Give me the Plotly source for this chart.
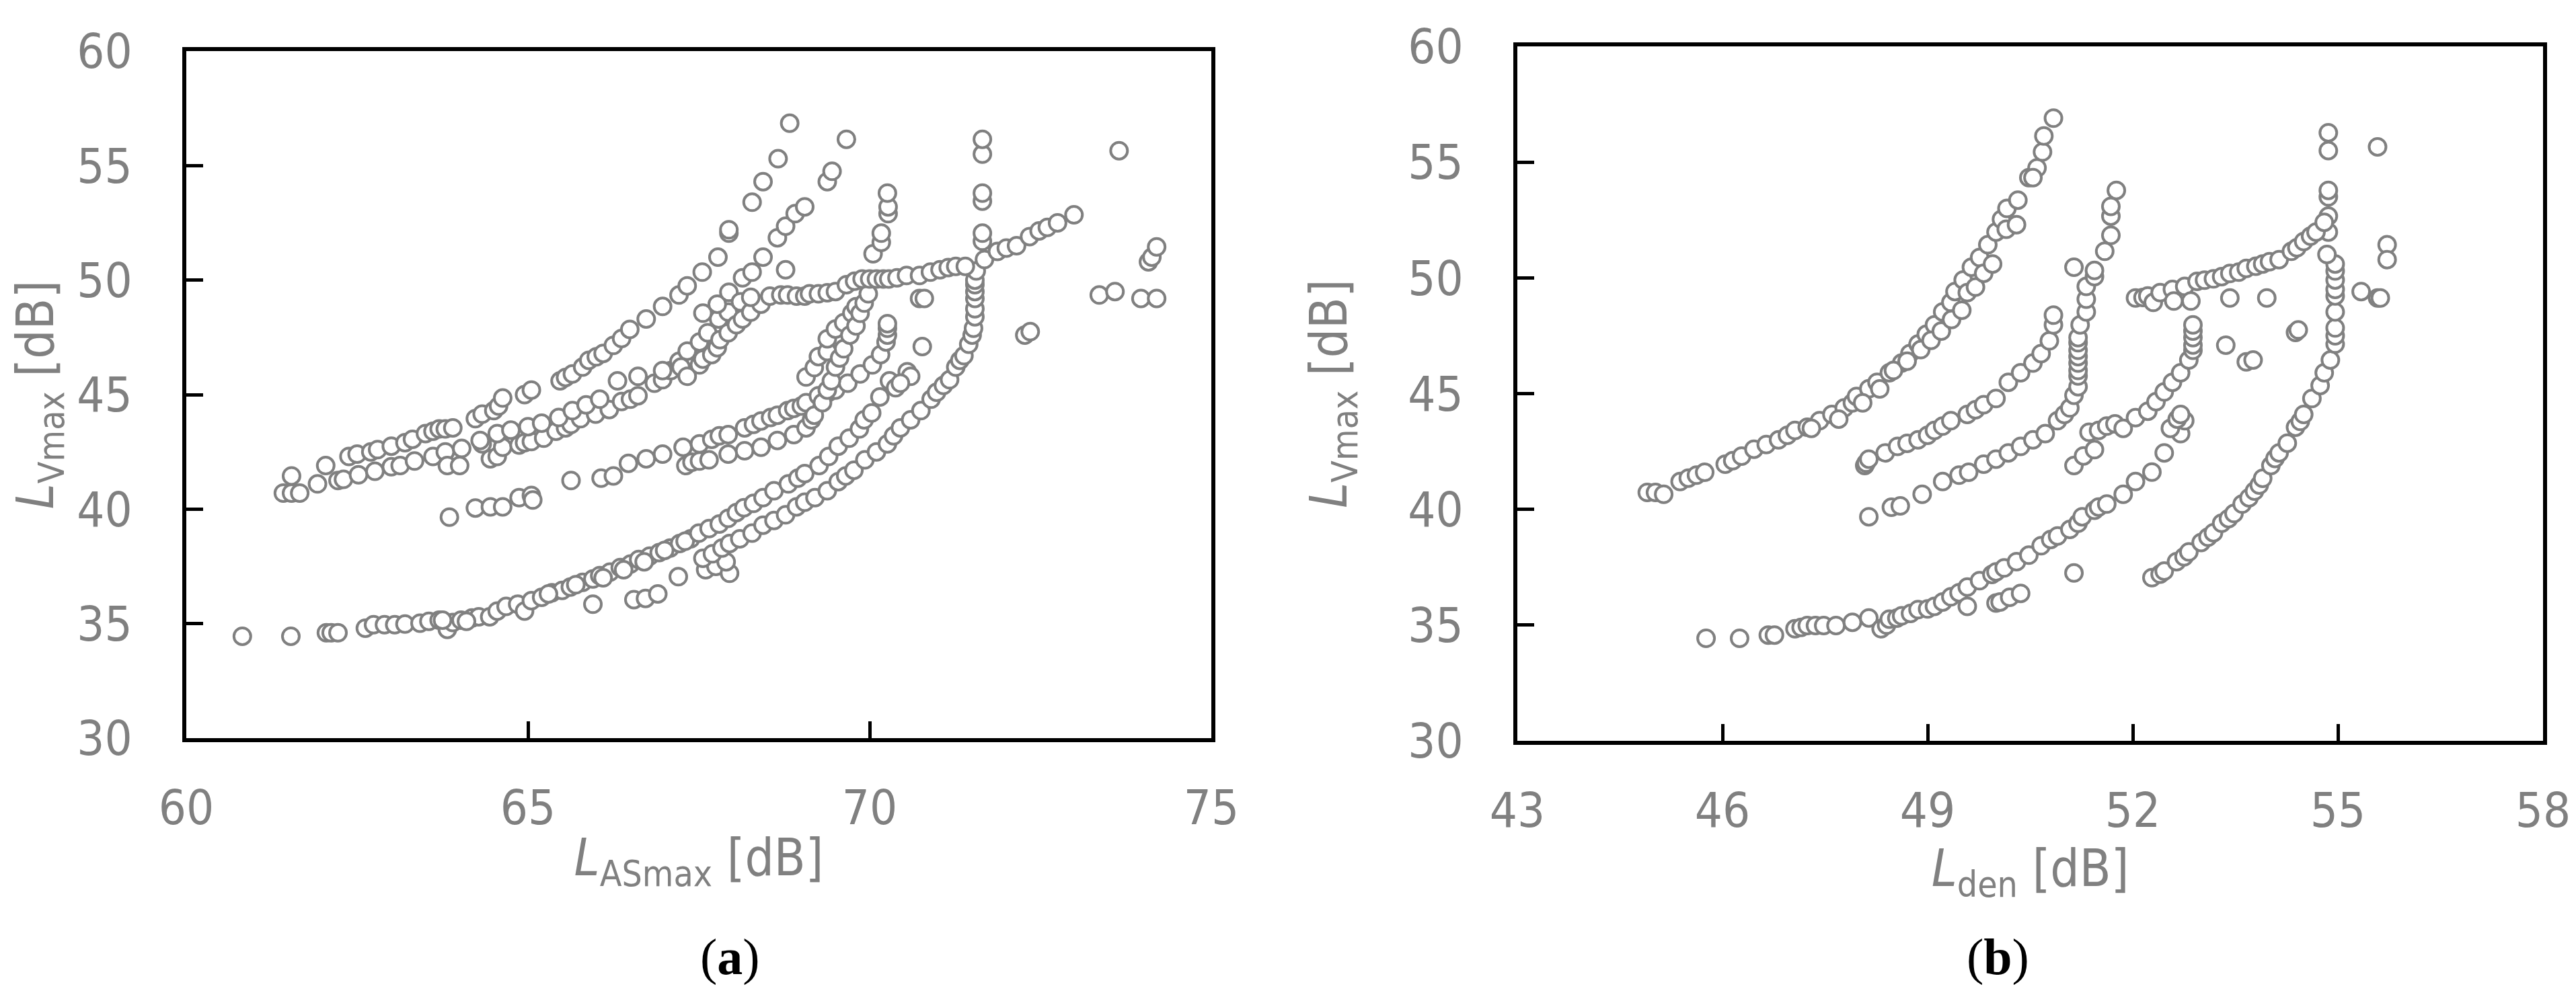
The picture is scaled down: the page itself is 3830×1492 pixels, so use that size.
import plotly.graph_objects as go

# ---------------- Panel (a): L_ASmax vs L_Vmax ----------------
a_tail = [(60.82,34.45),(61.53,34.45),(62.05,34.6),(62.12,34.6),(62.22,34.6),(62.62,34.8),(62.74,34.95),
          (62.9,34.95),(63.05,34.95),(63.2,34.98),(63.42,35.02),(63.55,35.1),(63.7,35.15),(63.82,34.75),
          (63.9,35.05),(64.02,35.15),(64.18,35.25),(64.28,35.3),(64.44,35.3),(64.55,35.55),(64.68,35.75),
          (64.85,35.85),(64.95,35.55),(65.05,36.0),(65.2,36.15),(65.35,36.35),(65.5,36.45),(65.62,36.6),
          (65.8,36.8),(65.95,36.95),(66.05,37.1),(66.2,37.25),(66.35,37.45),(66.5,37.6),(66.62,37.8),
          (66.78,37.95),(66.92,38.1),(67.08,38.3),(67.22,38.5),(67.38,38.7),(63.75,35.15),(64.1,35.1),
          (65.3,36.3),(65.7,36.7),(66.1,37.0),(66.4,37.35),(66.7,37.7),(67.0,38.2),(67.3,38.6)]
a_tail_out = [(65.95,35.85),(66.55,36.05),(66.72,36.1),(66.9,36.3),(67.2,37.05),(67.6,37.35),
              (67.75,37.5),(67.95,37.2),(67.9,37.7)]
a_lower1 = [(67.5,38.95),(67.65,39.15),(67.8,39.35),(67.93,39.6),(68.05,39.85),(68.16,40.06),(68.3,40.25),
            (68.44,40.5),(68.6,40.8),(68.81,41.1),(68.95,41.35),(69.05,41.55),(69.26,41.9),(69.4,42.3),
            (69.54,42.75),(69.7,43.1),(69.85,43.5),(69.92,43.9),(70.03,44.2),(70.15,44.9),(70.29,45.6),
            (70.38,45.3),(70.55,46.0),(70.77,47.1)]
a_lower2 = [(67.56,37.85),(67.7,38.05),(67.84,38.3),(67.95,38.5),(68.1,38.7),(68.28,38.95),(68.44,39.3),
            (68.6,39.5),(68.77,39.75),(68.93,40.1),(69.05,40.3),(69.2,40.5),(69.38,40.8),(69.54,41.2),
            (69.65,41.45),(69.77,41.7),(69.93,42.15),(70.1,42.5),(70.26,42.85),(70.35,43.2),(70.45,43.55),
            (70.6,43.9),(70.75,44.3),(70.9,44.8),(70.98,45.1),(71.08,45.4),(71.17,45.65),(71.26,46.2),
            (71.32,46.5),(71.38,46.7),(71.45,47.2),(71.5,47.6),(71.52,47.9),(71.54,48.4),(71.54,48.75),
            (71.54,49.2),(71.54,49.5),(71.54,49.8),(71.54,50.0),(71.56,50.4),(71.65,51.7),(71.65,52.05),
            (71.65,53.45),(71.65,53.8),(71.65,55.5),(71.65,56.15)]
a_mid1 = [(63.85,39.65),(64.23,40.05),(64.45,40.1),(64.63,40.1),(64.87,40.5),(65.05,40.6),(65.07,40.4),
          (65.63,41.25),(66.07,41.35),(66.25,41.45),(66.47,42.0),(66.73,42.2),(66.97,42.4),(67.27,42.7),
          (67.51,42.85),(67.69,43.05),(67.8,43.2),(67.93,43.25),(68.17,43.55),(68.3,43.7),(68.41,43.85),
          (68.55,44.0),(68.65,44.1),(68.8,44.3),(68.89,44.4),(69.0,44.5),(69.07,44.65),(69.25,44.95),
          (69.4,45.1),(69.5,45.2),(69.68,45.5),(69.86,45.9),(70.04,46.3),(70.16,46.75),(70.24,47.3),
          (70.26,47.6),(70.26,47.9),(70.26,48.1),(70.05,51.15),(70.17,51.65),(70.17,52.05),(70.27,52.9),
          (70.27,53.2),(70.26,53.8)]
a_mid2 = [(67.31,41.9),(67.4,42.05),(67.51,42.1),(67.65,42.15),(67.93,42.4),(68.17,42.55),(68.41,42.7),
          (68.65,43.0),(68.89,43.25),(69.07,43.55),(69.15,43.9),(69.19,44.1),(69.31,44.65),(69.38,45.2),
          (69.07,45.77),(69.19,46.18),(69.25,46.66),(69.38,46.88),(69.38,47.44),(69.5,47.86),(69.62,48.14),
          (69.74,48.56),(69.8,48.84),(69.44,45.6),(69.5,46.2),(69.56,46.6),(69.62,47.0),(69.71,47.6),
          (69.8,48.0),(69.86,48.55),(69.92,49.0),(69.98,49.4)]
a_top1 = [(61.54,41.45),(62.04,41.9),(62.38,42.3),(62.5,42.4),(62.7,42.5),(62.8,42.6),(63.0,42.75),
          (63.2,42.9),(63.31,43.05),(63.5,43.3),(63.61,43.4),(63.7,43.5),(63.79,43.5),(63.9,43.55),
          (64.23,43.95),(64.33,44.15),(64.5,44.3),(64.57,44.5),(64.63,44.85),(64.95,45.0),(65.05,45.2),
          (65.47,45.6),(65.55,45.75),(65.65,45.9),(65.8,46.2),(65.89,46.5),(66.0,46.65),(66.1,46.8),
          (66.25,47.15),(66.37,47.45),(66.49,47.85),(66.73,48.3),(66.97,48.85),(67.21,49.35),(67.33,49.75),
          (67.55,50.35),(67.78,51.0),(67.94,52.05),(67.94,52.2),(68.28,53.4),(68.44,54.3),(68.66,55.3),
          (68.83,56.85)]
a_top2 = [(61.42,40.7),(61.54,40.7),(61.66,40.7),(61.92,41.1),(62.22,41.25),(62.3,41.3),(62.52,41.5),
          (62.76,41.65),(63.0,41.85),(63.13,41.9),(63.34,42.1),(63.61,42.3),(63.79,42.5),(63.82,41.9),
          (64.03,42.65),(64.0,41.9),(64.33,42.85),(64.45,42.2),(64.55,42.3),(64.63,42.7),(64.87,42.8),
          (64.95,42.9),(65.05,42.95),(65.23,43.1),(65.41,43.4),(65.55,43.55),(65.63,43.7),(65.77,43.95),
          (65.99,44.15),(66.19,44.35),(66.37,44.7),(66.5,44.8),(66.61,44.95),(66.85,45.5),(66.97,45.65),
          (67.09,46.05),(67.21,46.45),(67.33,46.9),(67.51,47.3),(67.63,47.7),(67.79,48.3),(67.93,48.6),
          (67.56,48.56),(67.77,48.95),(67.94,49.47),(68.11,49.05),(68.14,50.1),(68.28,50.35),(68.44,51.0),
          (68.65,51.85),(68.77,52.35),(68.91,52.9),(69.05,53.2),(69.38,54.3),(69.45,54.75),(69.66,56.15)]
a_top3 = [(64.3,43.0),(64.55,43.3),(64.75,43.45),(65.0,43.6),(65.2,43.75),(65.45,44.0),(65.65,44.3),
          (65.85,44.55),(66.05,44.8),(66.31,45.6),(66.61,45.8),(66.97,46.05),(67.24,46.2),(67.33,45.8),
          (67.51,46.3),(67.56,46.55),(67.69,46.75),(67.77,47.05),(67.81,47.4),(67.93,47.7),(68.05,48.05),
          (68.14,48.3),(68.26,48.6),(68.41,48.95),(68.26,49.25)]
a_plateau = [(68.54,49.3),(68.7,49.35),(68.8,49.35),(68.93,49.3),(69.05,49.3),(69.12,49.4),(69.25,49.4),
             (69.38,49.45),(69.5,49.5),(69.66,49.8),(69.78,49.95),(69.89,50.05),(70.0,50.05),(70.1,50.05),
             (70.2,50.05),(70.28,50.05),(70.4,50.1),(70.54,50.2),(70.73,50.2),(70.89,50.35),(71.03,50.45),
             (71.15,50.55),(71.26,50.6),(71.4,50.6),(71.68,50.9),(71.87,51.25),(72.0,51.4),(72.15,51.5),
             (72.34,51.9),(72.48,52.15),(72.6,52.3),(72.75,52.5),(72.99,52.85)]
a_outliers = [(68.77,50.45),(70.73,49.2),(70.8,49.2),(70.6,45.8),(70.45,45.5),(72.27,47.6),(72.35,47.75),
              (73.36,49.35),(73.59,49.5),(73.65,55.65),(73.97,49.2),(74.2,49.2),(74.08,50.8),(74.13,51.0),
              (74.2,51.45)]

# ---------------- Panel (b): L_den vs L_Vmax ----------------
b_curve1 = [(44.9,40.73),(45.02,40.73),(45.14,40.65),(45.38,41.2),(45.5,41.35),(45.62,41.48),(45.74,41.6),
            (46.04,41.95),(46.15,42.1),(46.28,42.3),(46.46,42.6),(46.64,42.8),(46.82,43.0),(46.95,43.2),
            (47.06,43.41),(47.24,43.55),(47.42,43.83),(47.6,44.1),(47.78,44.38),(47.9,44.6),(47.96,44.88),
            (48.14,45.21),(48.26,45.49),(48.44,45.9),(48.62,46.32),(48.74,46.73),(48.86,47.14),(48.98,47.56),
            (49.1,47.97),(49.22,48.53),(49.34,48.94),(49.4,49.41),(49.52,49.91),(49.64,50.46),(49.76,50.88),
            (49.88,51.43),(50.0,51.98),(50.08,52.53),(50.16,53.0),(50.32,53.36),(50.48,54.33),(50.6,54.75),
            (50.68,55.44),(50.7,56.13),(50.84,56.9)]
b_curve1b = [(48.5,46.0),(48.7,46.4),(48.9,46.9),(49.05,47.3),(49.2,47.7),(49.35,48.2),(49.5,48.6),
             (49.58,49.36),(49.7,49.6),(49.82,50.2),(49.95,50.6),(50.15,52.1),(50.3,52.3),(50.54,54.33),
             (47.3,43.5),(47.7,43.9),(48.05,44.6),(48.3,45.2)]
b_curve2 = [(48.08,41.89),(48.1,42.0),(48.14,42.17),(48.38,42.44),(48.56,42.72),(48.7,42.85),(48.86,43.0),
            (49.0,43.2),(49.1,43.41),(49.22,43.6),(49.34,43.83),(49.58,44.1),(49.7,44.3),(49.82,44.52),
            (50.0,44.79),(50.18,45.49),(50.36,45.9),(50.54,46.32),(50.66,46.73),(50.78,47.28),(50.84,47.97),
            (50.84,48.39)]
b_curve3 = [(48.14,39.68),(48.47,40.09),(48.6,40.15),(48.92,40.65),(49.22,41.2),(49.46,41.48),(49.6,41.6),
            (49.82,41.95),(50.0,42.17),(50.18,42.44),(50.36,42.72),(50.54,43.0),(50.72,43.27),(50.9,43.83),
            (51.0,44.1),(51.08,44.38),(51.14,44.93),(51.2,45.3),(51.2,45.76),(51.2,46.0),(51.2,46.32),
            (51.2,46.6),(51.2,46.87),(51.2,47.2),(51.2,47.42),(51.23,47.97),(51.32,48.53),(51.32,49.08),
            (51.32,49.63),(51.44,50.05),(51.44,50.32),(51.14,50.46),(51.59,51.15),(51.68,51.84),(51.68,52.67),
            (51.68,53.09),(51.76,53.78)]
b_curve4 = [(51.14,41.89),(51.28,42.31),(51.44,42.58),(51.36,43.33),(51.5,43.41),(51.62,43.6),(51.74,43.69),
            (51.86,43.5),(52.04,43.96),(52.22,44.24),(52.34,44.65),(52.46,45.07),(52.58,45.49),(52.7,45.9),
            (52.82,46.45),(52.88,46.87),(52.88,47.1),(52.88,47.42),(52.88,47.7),(52.88,47.97)]
b_curve5 = [(45.76,34.43),(46.25,34.43),(46.67,34.57),(46.76,34.57),(47.06,34.84),(47.15,34.9),(47.24,34.98),
            (47.36,34.98),(47.48,34.98),(47.66,34.98),(47.9,35.12),(48.14,35.31),(48.32,34.84),(48.4,35.0),
            (48.44,35.26),(48.55,35.3),(48.62,35.4),(48.75,35.5),(48.86,35.67),(49.0,35.7),(49.1,35.81),
            (49.22,36.0),(49.34,36.22),(49.46,36.4),(49.58,36.64),(49.76,36.92),(49.94,37.19),(50.0,37.3),
            (50.12,37.47),(50.3,37.74),(50.48,38.02),(50.66,38.43),(50.8,38.7),(50.9,38.85),(51.08,39.13),
            (51.2,39.4),(51.26,39.68),(51.44,39.96),(51.5,40.1),(51.62,40.23),(51.86,40.65),(52.04,41.2),
            (52.28,41.61),(52.46,42.44),(52.7,43.27),(52.76,43.83)]
b_curve6 = [(52.28,37.05),(52.4,37.2),(52.46,37.33),(52.64,37.74),(52.75,37.95),(52.82,38.16),(53.0,38.57),
            (53.1,38.8),(53.18,38.99),(53.3,39.4),(53.4,39.6),(53.48,39.82),(53.6,40.23),(53.7,40.5),
            (53.78,40.79),(53.85,41.05),(53.9,41.34),(54.02,41.89),(54.08,42.2),(54.14,42.44),(54.26,42.86),
            (54.38,43.55),(54.45,43.8),(54.5,44.1),(54.62,44.79),(54.74,45.35),(54.8,45.9),(54.89,46.45),
            (54.96,47.14),(54.96,47.5),(54.96,47.84),(54.96,48.53),(54.96,49.22),(54.96,49.5),(54.96,49.91),
            (54.96,50.3),(54.96,50.6),(54.84,51.01),(54.86,51.98),(54.86,52.67),(54.86,53.5),(54.86,53.78),
            (54.86,55.5),(54.86,56.27)]
b_plateau = [(52.04,49.13),(52.15,49.15),(52.22,49.22),(52.3,48.94),(52.4,49.36),(52.58,49.5),(52.6,49.0),
             (52.76,49.63),(52.85,49.0),(52.94,49.85),(53.05,49.9),(53.18,49.96),(53.3,50.05),(53.42,50.19),
             (53.55,50.25),(53.66,50.41),(53.8,50.5),(53.9,50.6),(54.0,50.7),(54.14,50.79),(54.32,51.15),
             (54.4,51.3),(54.5,51.57),(54.6,51.8),(54.68,51.98),(54.8,52.4)]
b_outliers = [(49.58,35.81),(50.0,35.95),(50.06,36.0),(50.2,36.2),(50.36,36.37),(51.14,37.25),(53.42,49.13),
              (53.96,49.13),(53.36,47.09),(53.66,46.37),(53.76,46.45),(54.38,47.64),(54.42,47.75),
              (55.34,49.41),(55.58,49.13),(55.62,49.13),(55.58,55.66),(55.72,51.43),(55.72,50.79),
              (52.55,43.5),(52.65,43.9),(52.7,44.1)]

y_ticks = [30, 35, 40, 45, 50, 55, 60]
a_x_ticks = [60, 65, 70, 75]
b_x_ticks = [43, 46, 49, 52, 55, 58]

panel_a = a_tail + a_tail_out + a_lower1 + a_lower2 + a_mid1 + a_mid2 + a_top1 + a_top2 + a_top3 + a_plateau + a_outliers
panel_b = b_curve1 + b_curve1b + b_curve2 + b_curve3 + b_curve4 + b_curve5 + b_curve6 + b_plateau + b_outliers

GRAY = "#808080"
FAM = "DejaVu Sans Condensed, Lato, Open Sans, sans-serif"
TICKFONT = dict(family=FAM, size=72, color=GRAY)
TITLEFONT = dict(family=FAM, size=76, color=GRAY)
marker = dict(symbol="circle", size=25, color="white", line=dict(color=GRAY, width=4))

fig = go.Figure()
fig.add_trace(go.Scatter(x=[p[0] for p in panel_a], y=[p[1] for p in panel_a], mode="markers",
                         marker=marker, xaxis="x", yaxis="y", showlegend=False))
fig.add_trace(go.Scatter(x=[p[0] for p in panel_b], y=[p[1] for p in panel_b], mode="markers",
                         marker=marker, xaxis="x2", yaxis="y2", showlegend=False))

W, H = 3830, 1492
a_box = (269, 1793, 68, 1090)
b_box = (2248, 3773, 61, 1094)

def axis_common():
    return dict(showline=True, linecolor="black", linewidth=6, mirror=True, showgrid=False,
                zeroline=False, ticks="inside", ticklen=25, tickwidth=5, tickcolor="black",
                tickfont=TICKFONT, automargin=False)

xa = axis_common()
xa.update(domain=[a_box[0] / W, a_box[1] / W], range=[60, 75], tickvals=a_x_ticks, anchor="y",
          ticklabelstandoff=36,
          title=dict(text="<i>L</i><sub>ASmax</sub> [dB]", font=TITLEFONT, standoff=8))
ya = axis_common()
ya.update(domain=[1 - a_box[3] / H, 1 - a_box[2] / H], range=[30, 60], tickvals=y_ticks, anchor="x",
          ticklabelstandoff=60,
          title=dict(text="<i>L</i><sub>Vmax</sub> [dB]", font=TITLEFONT, standoff=68))
xb = axis_common()
xb.update(domain=[b_box[0] / W, b_box[1] / W], range=[43, 58], tickvals=b_x_ticks, anchor="y2",
          ticklabelstandoff=36,
          title=dict(text="<i>L</i><sub>den</sub> [dB]", font=TITLEFONT, standoff=8))
yb = axis_common()
yb.update(domain=[1 - b_box[3] / H, 1 - b_box[2] / H], range=[30, 60], tickvals=y_ticks, anchor="x2",
          ticklabelstandoff=60,
          title=dict(text="<i>L</i><sub>Vmax</sub> [dB]", font=TITLEFONT, standoff=68))

LABELFONT = dict(family="Liberation Serif, Times New Roman, serif", size=76, color="black")
fig.update_layout(
    width=W, height=H, margin=dict(l=0, r=0, t=0, b=0, autoexpand=False),
    paper_bgcolor="white", plot_bgcolor="white", showlegend=False,
    xaxis=xa, yaxis=ya, xaxis2=xb, yaxis2=yb,
    annotations=[
        dict(text="(<b>a</b>)", x=(a_box[0] + a_box[1]) / 2 / W, y=1 - 1415 / H, xref="paper", yref="paper",
             yanchor="middle", showarrow=False, font=LABELFONT),
        dict(text="(<b>b</b>)", x=(b_box[0] + b_box[1]) / 2 / W, y=1 - 1415 / H, xref="paper", yref="paper",
             yanchor="middle", showarrow=False, font=LABELFONT),
    ],
)

fig.write_html("out.html")
